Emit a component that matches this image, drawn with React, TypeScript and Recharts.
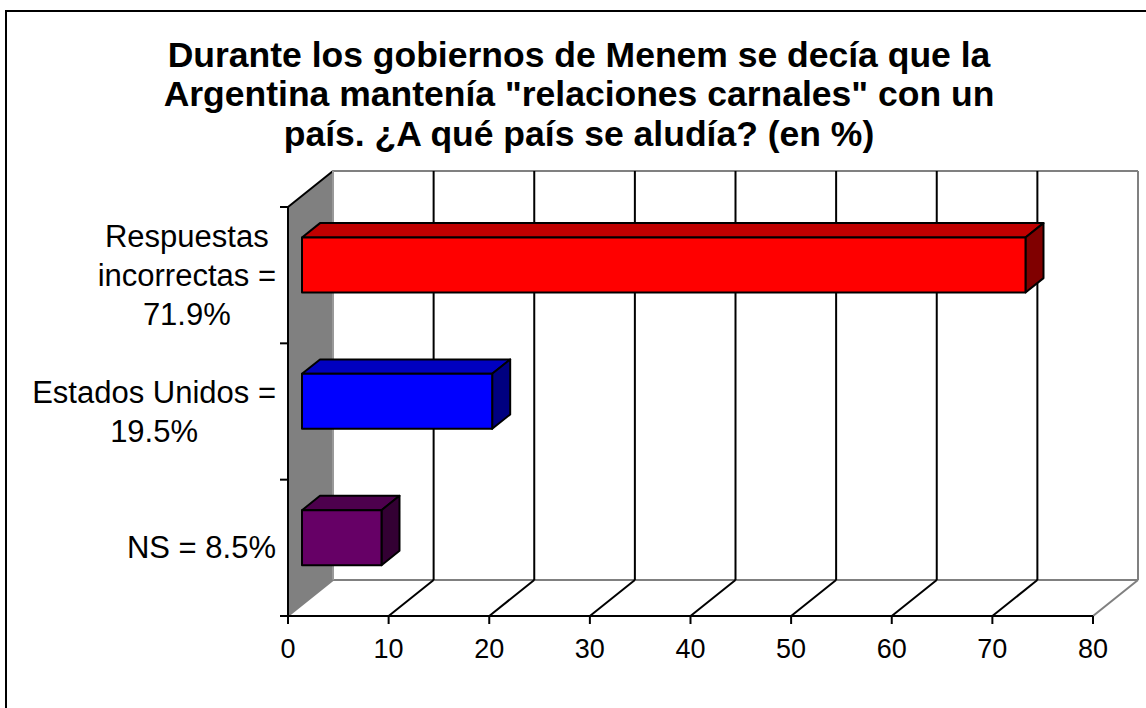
import React from "react";
import { Bar, BarChart, CartesianGrid, XAxis, YAxis } from "recharts";

const titleLines = [
  "Durante los gobiernos de Menem se decía que la",
  'Argentina mantenía "relaciones carnales" con un',
  "país. ¿A qué país se aludía? (en %)",
];

const categoryLines = [
  ["Respuestas", "incorrectas =", "71.9%"],
  ["Estados Unidos =", "19.5%"],
  ["NS = 8.5%"],
];
const categories = categoryLines.map((l) => l.join(" "));
// bar lengths as drawn against the 0-80 scale
const barValues = [71.9, 18.9, 7.9];
const faceColors = ["#ff0000", "#0000ff", "#660066"];
const topColors = ["#c00000", "#0000c0", "#4d004d"];
const sideColors = ["#800000", "#000080", "#330033"];
const xTicks = [0, 10, 20, 30, 40, 50, 60, 70, 80];

const rows = categories.map((name, i) => ({ name, value: barValues[i] }));

const FONT = '"Liberation Sans", Arial, Helvetica, sans-serif';
const GREY = "#808080";
const DEPTH = { x: 45, y: -36 }; // front plane -> back wall
const BAR_OFF = { x: 14, y: -10.5 }; // front plane -> bar front face
const BAR_DEPTH = { x: 18, y: -14.4 };
const LABEL_FONT = 31;
const LABEL_LINE = 39;

let ctx: CanvasRenderingContext2D | null = null;
function textWidth(s: string) {
  if (!ctx) {
    ctx = document.createElement("canvas").getContext("2d");
  }
  if (!ctx) return s.length * LABEL_FONT * 0.55;
  ctx.font = `${LABEL_FONT}px ${FONT}`;
  return ctx.measureText(s).width;
}

// back wall, floor and left wall, hung on the vertical grid lines
function WallLine(props: any) {
  const { x1, y1, y2, x, width } = props;
  const left = x;
  const right = x + width;
  const isLeft = Math.abs(x1 - left) < 1;
  const edge = isLeft || Math.abs(x1 - right) < 1;
  const stroke = edge ? GREY : "#000";
  const bx = x1 + DEPTH.x;
  const n = categories.length;
  const step = (y2 - y1) / n;
  return (
    <g>
      {isLeft && (
        <g>
          <polygon
            points={`${x1},${y1} ${bx},${y1 + DEPTH.y} ${bx},${y2 + DEPTH.y} ${x1},${y2}`}
            fill={GREY}
            stroke="none"
          />
          <line x1={bx} y1={y1 + DEPTH.y} x2={right + DEPTH.x} y2={y1 + DEPTH.y} stroke={GREY} strokeWidth={2} />
          <line x1={bx} y1={y2 + DEPTH.y} x2={right + DEPTH.x} y2={y2 + DEPTH.y} stroke={GREY} strokeWidth={2} />
          <line x1={x1} y1={y1} x2={bx} y2={y1 + DEPTH.y} stroke="#000" strokeWidth={2} />
          {Array.from({ length: n + 1 }, (_, k) => (
            <line key={k} x1={x1 - 8} y1={y1 + k * step} x2={x1} y2={y1 + k * step} stroke="#000" strokeWidth={2} />
          ))}
        </g>
      )}
      <line x1={bx} y1={y1 + DEPTH.y} x2={bx} y2={y2 + DEPTH.y} stroke={isLeft ? "#999" : stroke} strokeWidth={2} />
      <line x1={x1} y1={y2} x2={bx} y2={y2 + DEPTH.y} stroke={stroke} strokeWidth={2} />
    </g>
  );
}

function Box3D(props: any) {
  const { x, y, width, height, index } = props;
  const fx = x + BAR_OFF.x;
  const fy = y + BAR_OFF.y;
  const dx = BAR_DEPTH.x;
  const dy = BAR_DEPTH.y;
  const top = `${fx},${fy} ${fx + dx},${fy + dy} ${fx + width + dx},${fy + dy} ${fx + width},${fy}`;
  const side = `${fx + width},${fy} ${fx + width + dx},${fy + dy} ${fx + width + dx},${fy + height + dy} ${fx + width},${fy + height}`;
  return (
    <g stroke="#000" strokeWidth={2} strokeLinejoin="round">
      <polygon points={top} fill={topColors[index]} />
      <polygon points={side} fill={sideColors[index]} />
      <rect x={fx} y={fy} width={width} height={height} fill={faceColors[index]} />
    </g>
  );
}

function CategoryTick(props: any) {
  const { x, y, payload } = props;
  const i = categories.indexOf(payload.value);
  const lines = i >= 0 ? categoryLines[i] : [String(payload.value)];
  const maxW = Math.max(...lines.map(textWidth));
  const cx = x - maxW / 2;
  return (
    <text textAnchor="middle" fontSize={LABEL_FONT} fontFamily={FONT} fill="#000">
      {lines.map((l, k) => (
        <tspan key={k} x={cx} y={y + (k - (lines.length - 1) / 2) * LABEL_LINE + 10.5}>
          {l}
        </tspan>
      ))}
    </text>
  );
}

function ValueTick(props: any) {
  const { x, y, payload } = props;
  return (
    <text x={x} y={y + 19} textAnchor="middle" fontSize={27} fontFamily={FONT} fill="#000">
      {payload.value}
    </text>
  );
}

export default function App() {
  return (
    <div style={{ position: "absolute", left: 0, top: 0, width: 1146, height: 708, overflow: "hidden", background: "#fff" }}>
      <div
        style={{
          position: "absolute",
          left: 5,
          top: 10,
          width: 1160,
          height: 720,
          borderLeft: "2px solid #000",
          borderTop: "2px solid #000",
        }}
      />
      <div
        style={{
          position: "absolute",
          left: 0,
          top: 36,
          width: 1158,
          textAlign: "center",
          fontFamily: FONT,
          fontWeight: "bold",
          fontSize: 35.5,
          lineHeight: "39.3px",
          color: "#000",
          whiteSpace: "nowrap",
        }}
      >
        {titleLines.map((t) => (
          <div key={t}>{t}</div>
        ))}
      </div>
      <div style={{ position: "absolute", left: 0, top: 0 }}>
        <BarChart
          width={1146}
          height={708}
          data={rows}
          layout="vertical"
          barSize={55}
          margin={{ top: 207, right: 53, bottom: 52, left: 188 }}
        >
          <CartesianGrid horizontal={false} vertical={(p: any) => <WallLine {...p} />} stroke="none" />
          <XAxis
            type="number"
            domain={[0, 80]}
            ticks={xTicks}
            interval={0}
            height={40}
            tickSize={8}
            tickMargin={15}
            axisLine={{ stroke: "#000", strokeWidth: 2 }}
            tickLine={{ stroke: "#000", strokeWidth: 2 }}
            tick={<ValueTick />}
          />
          <YAxis
            type="category"
            dataKey="name"
            width={100}
            tickSize={0}
            tickMargin={12}
            interval={0}
            axisLine={{ stroke: "#000", strokeWidth: 2 }}
            tickLine={false}
            tick={<CategoryTick />}
          />
          <Bar dataKey="value" isAnimationActive={false} shape={<Box3D />} />
        </BarChart>
      </div>
    </div>
  );
}
